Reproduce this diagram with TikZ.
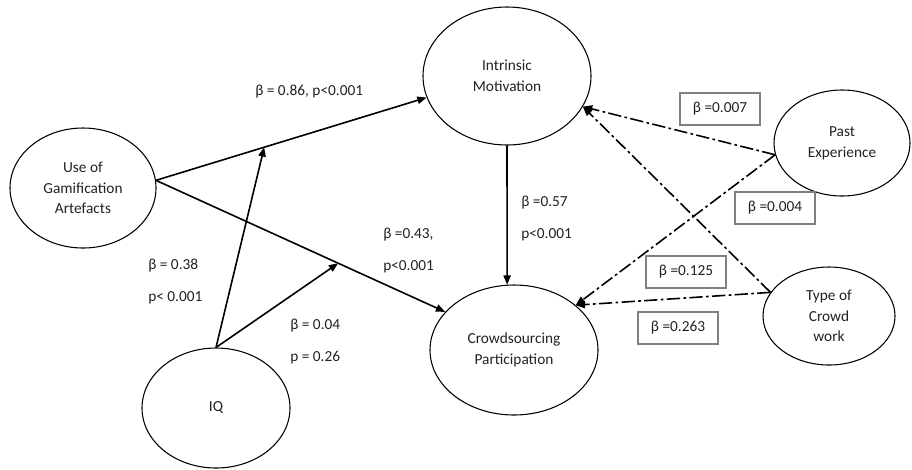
\documentclass[tikz,border=0pt]{standalone}
\usepackage{fontspec}
\setmainfont{Carlito}
\usetikzlibrary{shapes.geometric,arrows.meta,calc}
\definecolor{txt}{HTML}{222222}
\definecolor{boxgray}{HTML}{808080}
\tikzset{
  construct/.style={ellipse,draw=black,line width=0.8pt,inner sep=0pt,align=center,text=txt,
    font=\fontsize{11.5}{15.5}\selectfont},
  lbl/.style={anchor=west,align=left,inner sep=0pt,text=txt,font=\fontsize{11.5}{24}\selectfont},
  betabox/.style={draw=boxgray,line width=0.8pt,minimum width=60pt,minimum height=24pt,inner sep=0pt,
    text=txt,font=\fontsize{11.5}{14}\selectfont},
  solidarrow/.style={line width=1.2pt,-{Triangle[length=7pt,width=5.5pt]}},
  dasharrow/.style={line width=1.2pt,dash pattern=on 10pt off 2.5pt on 2pt off 2.5pt,-{Triangle[length=7pt,width=5.5pt]}}
}
\begin{document}
\begin{tikzpicture}[x=0.75pt,y=-0.75pt]
\useasboundingbox (0,0) rectangle (912,469);
% constructs
\node[construct,minimum width=126pt,minimum height=103.5pt] (IM) at (507,76) {Intrinsic\\Motivation};
\node[construct,minimum width=109.5pt,minimum height=90pt] (UG) at (83,188) {Use of\\Gamification\\Artefacts};
\node[construct,minimum width=111pt,minimum height=90pt] (IQ) at (216,408) {IQ};
\node[construct,minimum width=126pt,minimum height=97.5pt] (CP) at (514,350) {Crowdsourcing\\Participation};
\node[construct,minimum width=102pt,minimum height=79.5pt] (PE) at (842,143) {Past\\Experience};
\node[construct,minimum width=99pt,minimum height=73.5pt] (TC) at (829,316) {Type of\\Crowd\\work};
% main paths
\draw[solidarrow] (UG.6) -- (IM.195);
\draw[solidarrow] (UG.6) -- (CP.151);
\coordinate (j1) at ($(UG.6)!0.4!(IM.195)$);
\coordinate (j2) at ($(UG.6)!0.63!(CP.151)$);
\draw[solidarrow] (IQ.north) -- (j1);
\draw[solidarrow] (IQ.north) -- (j2);
\draw[solidarrow] (IM.south) -- (CP.96);
% control paths
\draw[dasharrow] (PE.190) -- (IM.338);
\draw[dasharrow] (PE.190) -- (CP.36);
\draw[dasharrow] (TC.158) -- (IM.338);
\draw[dasharrow] (TC.158) -- (CP.36);
% labels
\node[lbl] (l1) at (255,92) {β = 0.86, p<0.001};
\node[lbl] (l2) at (148,281) {β = 0.38\\p< 0.001};
\node[lbl] (l3) at (290,341) {β = 0.04\\p = 0.26};
\node[lbl] (l4) at (383,250) {β =0.43,\\p<0.001};
\node[lbl] (l5) at (521,218) {β =0.57\\p<0.001};
% boxed coefficients
\node[betabox] (b1) at (720,109) {β =0.007};
\node[betabox] (b2) at (775,208) {β =0.004};
\node[betabox] (b3) at (686,272) {β =0.125};
\node[betabox] (b4) at (678,328) {β =0.263};
\end{tikzpicture}
\end{document}
